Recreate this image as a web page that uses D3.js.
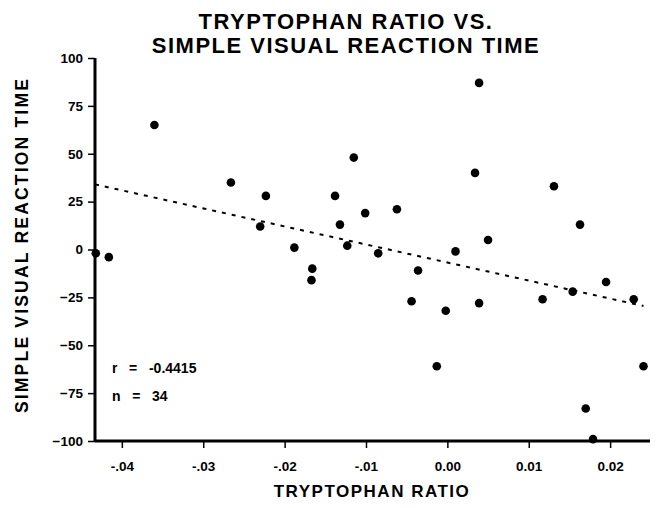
<!DOCTYPE html>
<html>
<head>
<meta charset="utf-8">
<script src="https://cdn.jsdelivr.net/npm/d3@7"></script>
<style>
  body { margin: 0; background: #fff; }
  text { font-family: "Liberation Sans", Arial, sans-serif; font-weight: bold; fill: #000; }
</style>
</head>
<body>
<svg width="656" height="508"></svg>
<script>
// values
var tryptophanRatio = [-0.0360, -0.0266, -0.0223, -0.0230, -0.0432, -0.0416, 0.0039, -0.0115, 0.0034,
                       -0.0138, -0.0101, -0.0062, -0.0132, -0.0188, -0.0123, -0.0085, 0.0010, 0.0131,
                       0.0163, 0.0050, -0.0166, -0.0167, -0.0036, -0.0044, -0.0002, 0.0039, 0.0117,
                       0.0154, 0.0195, 0.0229, -0.0013, 0.0241, 0.0170, 0.0179];
var reactionTime = [65, 35, 28, 12, -2, -4, 87, 48, 40,
                    28, 19, 21, 13, 1, 2, -2, -1, 33,
                    13, 5, -10, -16, -11, -27, -32, -28, -26,
                    -22, -17, -26, -61, -61, -83, -99];
var fitX = [-0.0433, 0.0241];
var fitY = [34, -29.5];
var xTicks = [-0.04, -0.03, -0.02, -0.01, 0, 0.01, 0.02];
var xTickLabels = ['-.04', '-.03', '-.02', '-.01', '0.00', '0.01', '0.02'];
var yTicks = [-100, -75, -50, -25, 0, 25, 50, 75, 100];
var statLines = ['r   =   -0.4415', 'n   =   34'];

var svg = d3.select('svg');
var x = d3.scaleLinear().domain([-0.0433, 0.0249]).range([95, 650]);
var y = d3.scaleLinear().domain([-100, 100]).range([441, 58]);

// title
svg.append('text').attr('x', 346).attr('y', 29).attr('text-anchor', 'middle')
   .attr('font-size', '22px').attr('letter-spacing', '1.5px').text('TRYPTOPHAN RATIO VS.');
svg.append('text').attr('x', 346).attr('y', 53).attr('text-anchor', 'middle')
   .attr('font-size', '22px').attr('letter-spacing', '1.5px').text('SIMPLE VISUAL REACTION TIME');

// axes
var yAxis = svg.append('g').attr('transform', 'translate(95,0)')
               .call(d3.axisLeft(y).tickValues(yTicks).tickSize(7).tickPadding(5));
var xAxis = svg.append('g').attr('transform', 'translate(0,441)')
               .call(d3.axisBottom(x).tickValues(xTicks).tickSize(7).tickPadding(13)
               .tickFormat(function(d, i) { return xTickLabels[i]; }));
[yAxis, xAxis].forEach(function(a) {
  a.select('.domain').attr('stroke', '#000').attr('stroke-width', 3);
  a.selectAll('.tick line').attr('stroke', '#000').attr('stroke-width', 1.5);
  a.selectAll('.tick text').attr('font-size', '13.5px').attr('font-family', '"Liberation Sans", Arial, sans-serif')
   .attr('font-weight', 'bold').attr('fill', '#000');
});
yAxis.select('.domain').attr('d', 'M0,' + y(100) + 'V' + y(-100));
xAxis.select('.domain').attr('d', 'M' + x.range()[0] + ',0H' + x.range()[1]);

// regression line
svg.append('path')
   .datum(d3.zip(fitX, fitY))
   .attr('d', d3.line().x(function(d) { return x(d[0]); }).y(function(d) { return y(d[1]); }))
   .attr('fill', 'none').attr('stroke', '#000').attr('stroke-width', 2)
   .attr('stroke-dasharray', '4,6');

// points
svg.append('g').selectAll('circle')
   .data(d3.zip(tryptophanRatio, reactionTime))
   .enter().append('circle')
   .attr('cx', function(d) { return x(d[0]); })
   .attr('cy', function(d) { return y(d[1]); })
   .attr('r', 4.3)
   .attr('fill', '#000');

// stats
svg.selectAll('.stat').data(statLines).enter().append('text')
   .attr('class', 'stat')
   .attr('x', 112).attr('y', function(d, i) { return 373 + i * 28; })
   .attr('font-size', '14px')
   .style('white-space', 'pre')
   .text(function(d) { return d; });

// axis titles
svg.append('text').attr('x', 372).attr('y', 497).attr('text-anchor', 'middle')
   .attr('font-size', '17px').attr('letter-spacing', '1.5px').text('TRYPTOPHAN RATIO');
svg.append('text').attr('transform', 'translate(28,245) rotate(-90)').attr('text-anchor', 'middle')
   .attr('font-size', '17.5px').attr('letter-spacing', '2.2px').text('SIMPLE VISUAL REACTION TIME');
</script>
</body>
</html>
